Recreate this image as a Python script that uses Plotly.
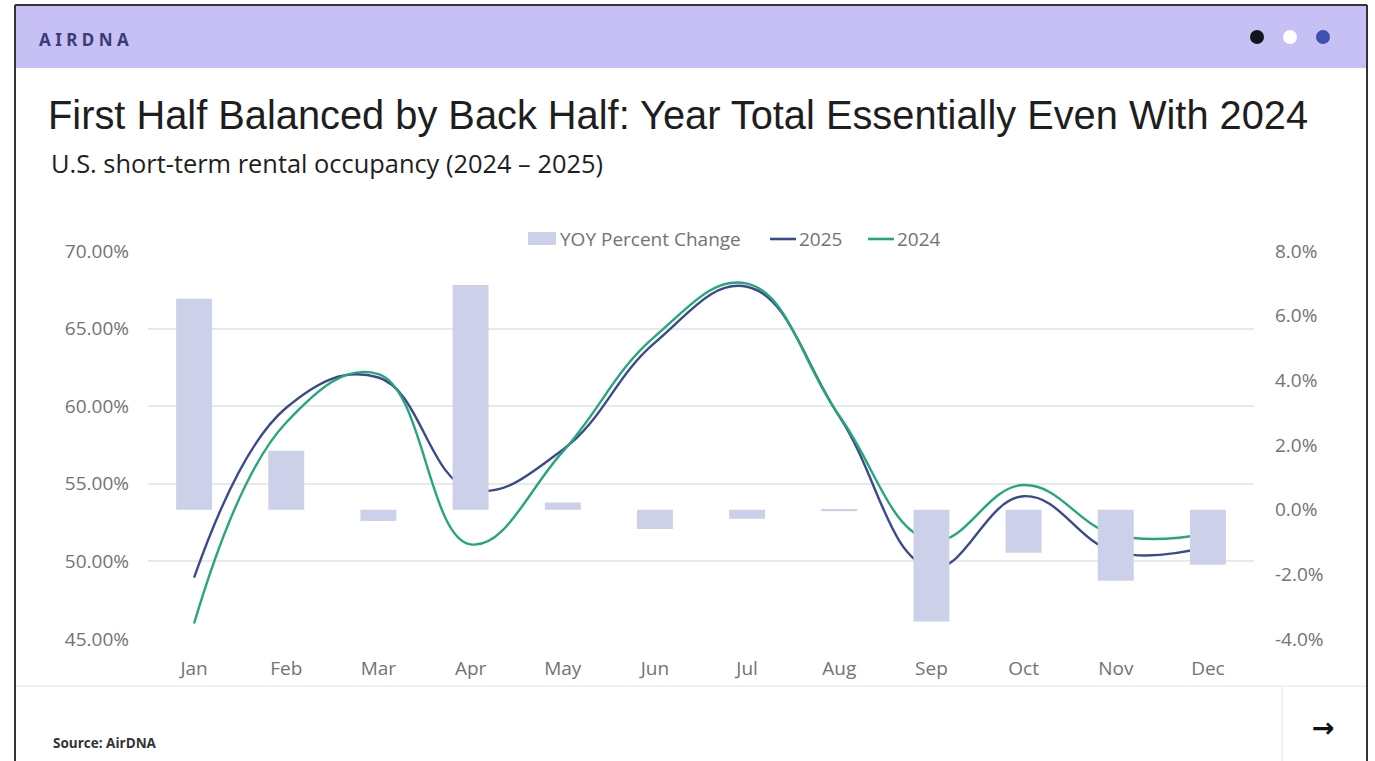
import plotly.graph_objects as go

# U.S. short-term rental occupancy, 2024 vs 2025
months = ["Jan", "Feb", "Mar", "Apr", "May", "Jun", "Jul", "Aug", "Sep", "Oct", "Nov", "Dec"]
occ_2025 = [48.95, 59.9, 61.85, 54.65, 57.2, 64.1, 67.7, 59.35, 49.6, 54.2, 50.6, 50.95]
occ_2024 = [46.0, 58.95, 62.07, 51.1, 57.07, 64.5, 67.9, 59.38, 51.35, 54.92, 51.7, 51.8]
yoy_change = [6.52, 1.82, -0.35, 6.95, 0.22, -0.6, -0.28, -0.05, -3.46, -1.33, -2.2, -1.7]

left_ticks = [45, 50, 55, 60, 65, 70]
left_labels = ["45.00%", "50.00%", "55.00%", "60.00%", "65.00%", "70.00%"]
right_ticks = [-4, -2, 0, 2, 4, 6, 8]
right_labels = ["-4.0%", "-2.0%", "0.0%", "2.0%", "4.0%", "6.0%", "8.0%"]

W, H = 1375, 761


def px(x):
    return x / W


def py(y):
    return 1 - y / H


BAR_COLOR = "#CDD0E9"
C2025 = "#3B4A8E"
C2024 = "#27A67C"
GREY_TEXT = "#737373"
TICK_FONT = dict(family="Open Sans", size=19, color=GREY_TEXT)

fig = go.Figure()
fig.add_trace(go.Bar(
    x=months, y=yoy_change, name="YOY Percent Change", yaxis="y2",
    marker=dict(color=BAR_COLOR, line=dict(width=0)), width=0.39, showlegend=False,
))
fig.add_trace(go.Scatter(
    x=months, y=occ_2025, name="2025", mode="lines", yaxis="y", showlegend=False,
    line=dict(color=C2025, width=2.4, shape="spline", smoothing=1.2),
))
fig.add_trace(go.Scatter(
    x=months, y=occ_2024, name="2024", mode="lines", yaxis="y", showlegend=False,
    line=dict(color=C2024, width=2.4, shape="spline", smoothing=1.2),
))

shapes = [
    # header band
    dict(type="rect", xref="paper", yref="paper", x0=px(15), x1=px(1367), y0=py(68), y1=py(5),
         fillcolor="#C6C0F5", line=dict(width=0), layer="below"),
    # card frame
    dict(type="line", xref="paper", yref="paper", x0=px(15), x1=px(15), y0=0, y1=py(5),
         line=dict(color="#333333", width=2)),
    dict(type="line", xref="paper", yref="paper", x0=px(1367), x1=px(1367), y0=0, y1=py(5),
         line=dict(color="#333333", width=2)),
    dict(type="line", xref="paper", yref="paper", x0=px(15), x1=px(1367), y0=py(5), y1=py(5),
         line=dict(color="#333333", width=2)),
    # footer separators
    dict(type="line", xref="paper", yref="paper", x0=px(16), x1=px(1366), y0=py(686), y1=py(686),
         line=dict(color="#ECECEC", width=1.5)),
    dict(type="line", xref="paper", yref="paper", x0=px(1282), x1=px(1282), y0=0, y1=py(686),
         line=dict(color="#ECECEC", width=1.5)),
    # header dots
    dict(type="circle", xref="paper", yref="paper", x0=px(1250), x1=px(1264), y0=py(44), y1=py(30),
         fillcolor="#15161C", line=dict(width=0)),
    dict(type="circle", xref="paper", yref="paper", x0=px(1283), x1=px(1297), y0=py(44), y1=py(30),
         fillcolor="#FFFFFF", line=dict(width=0)),
    dict(type="circle", xref="paper", yref="paper", x0=px(1316), x1=px(1330), y0=py(44), y1=py(30),
         fillcolor="#3F50AE", line=dict(width=0)),
    # legend swatches
    dict(type="rect", xref="paper", yref="paper", x0=px(528), x1=px(556), y0=py(245), y1=py(232),
         fillcolor=BAR_COLOR, line=dict(width=0)),
    dict(type="line", xref="paper", yref="paper", x0=px(770), x1=px(796), y0=py(239), y1=py(239),
         line=dict(color=C2025, width=2.6)),
    dict(type="line", xref="paper", yref="paper", x0=px(868), x1=px(894), y0=py(239), y1=py(239),
         line=dict(color=C2024, width=2.6)),
]

LEGEND_FONT = dict(family="Open Sans", size=19, color=GREY_TEXT)

annotations = [
    dict(text="<b>A I R D N A</b>", x=px(37), y=py(40), xref="paper", yref="paper",
         xanchor="left", yanchor="middle", showarrow=False,
         font=dict(family="Noto Sans", size=17, color="#3A3C78")),
    dict(text="First Half Balanced by Back Half: Year Total Essentially Even With 2024",
         x=px(46), y=py(115), xref="paper", yref="paper", xanchor="left", yanchor="middle",
         showarrow=False, font=dict(family="Liberation Sans", size=39.8, color="#1E1E1E")),
    dict(text="U.S. short-term rental occupancy (2024 – 2025)",
         x=px(49), y=py(163), xref="paper", yref="paper", xanchor="left", yanchor="middle",
         showarrow=False, font=dict(family="Open Sans", size=25.4, color="#1E1E1E")),
    dict(text="YOY Percent Change", x=px(558), y=py(239), xref="paper", yref="paper",
         xanchor="left", yanchor="middle", showarrow=False, font=LEGEND_FONT),
    dict(text="2025", x=px(797), y=py(239), xref="paper", yref="paper",
         xanchor="left", yanchor="middle", showarrow=False, font=LEGEND_FONT),
    dict(text="2024", x=px(895), y=py(239), xref="paper", yref="paper",
         xanchor="left", yanchor="middle", showarrow=False, font=LEGEND_FONT),
    dict(text="<b>Source: AirDNA</b>", x=px(51), y=py(743), xref="paper", yref="paper",
         xanchor="left", yanchor="middle", showarrow=False,
         font=dict(family="Open Sans", size=13.5, color="#333333")),
    dict(text="<b>→</b>", x=px(1323), y=py(727), xref="paper", yref="paper",
         xanchor="center", yanchor="middle", showarrow=False,
         font=dict(family="DejaVu Sans", size=27, color="#111111")),
]

fig.update_layout(
    width=W, height=H,
    margin=dict(l=0, r=0, t=0, b=0, pad=0),
    paper_bgcolor="white", plot_bgcolor="white",
    shapes=shapes, annotations=annotations,
    showlegend=False,
    xaxis=dict(domain=[px(148), px(1254)], range=[-0.5, 11.5], type="category",
               showgrid=False, showline=False, zeroline=False, ticks="", automargin=False,
               tickfont=TICK_FONT, ticklabelstandoff=16),
    yaxis=dict(domain=[py(639), py(251)], range=[45, 70], tickvals=left_ticks, ticktext=left_labels,
               showgrid=True, gridcolor="#E9E9E9", gridwidth=1.5, zeroline=False, showline=False,
               ticks="", tickfont=TICK_FONT, ticklabelstandoff=18, automargin=False),
    yaxis2=dict(overlaying="y", side="right", anchor="x", range=[-4, 8],
                tickvals=right_ticks, ticktext=right_labels, showgrid=False, zeroline=False,
                showline=False, ticks="", tickfont=TICK_FONT, ticklabelstandoff=20,
                automargin=False),
    bargap=0.6,
)

fig.write_html("out.html")
